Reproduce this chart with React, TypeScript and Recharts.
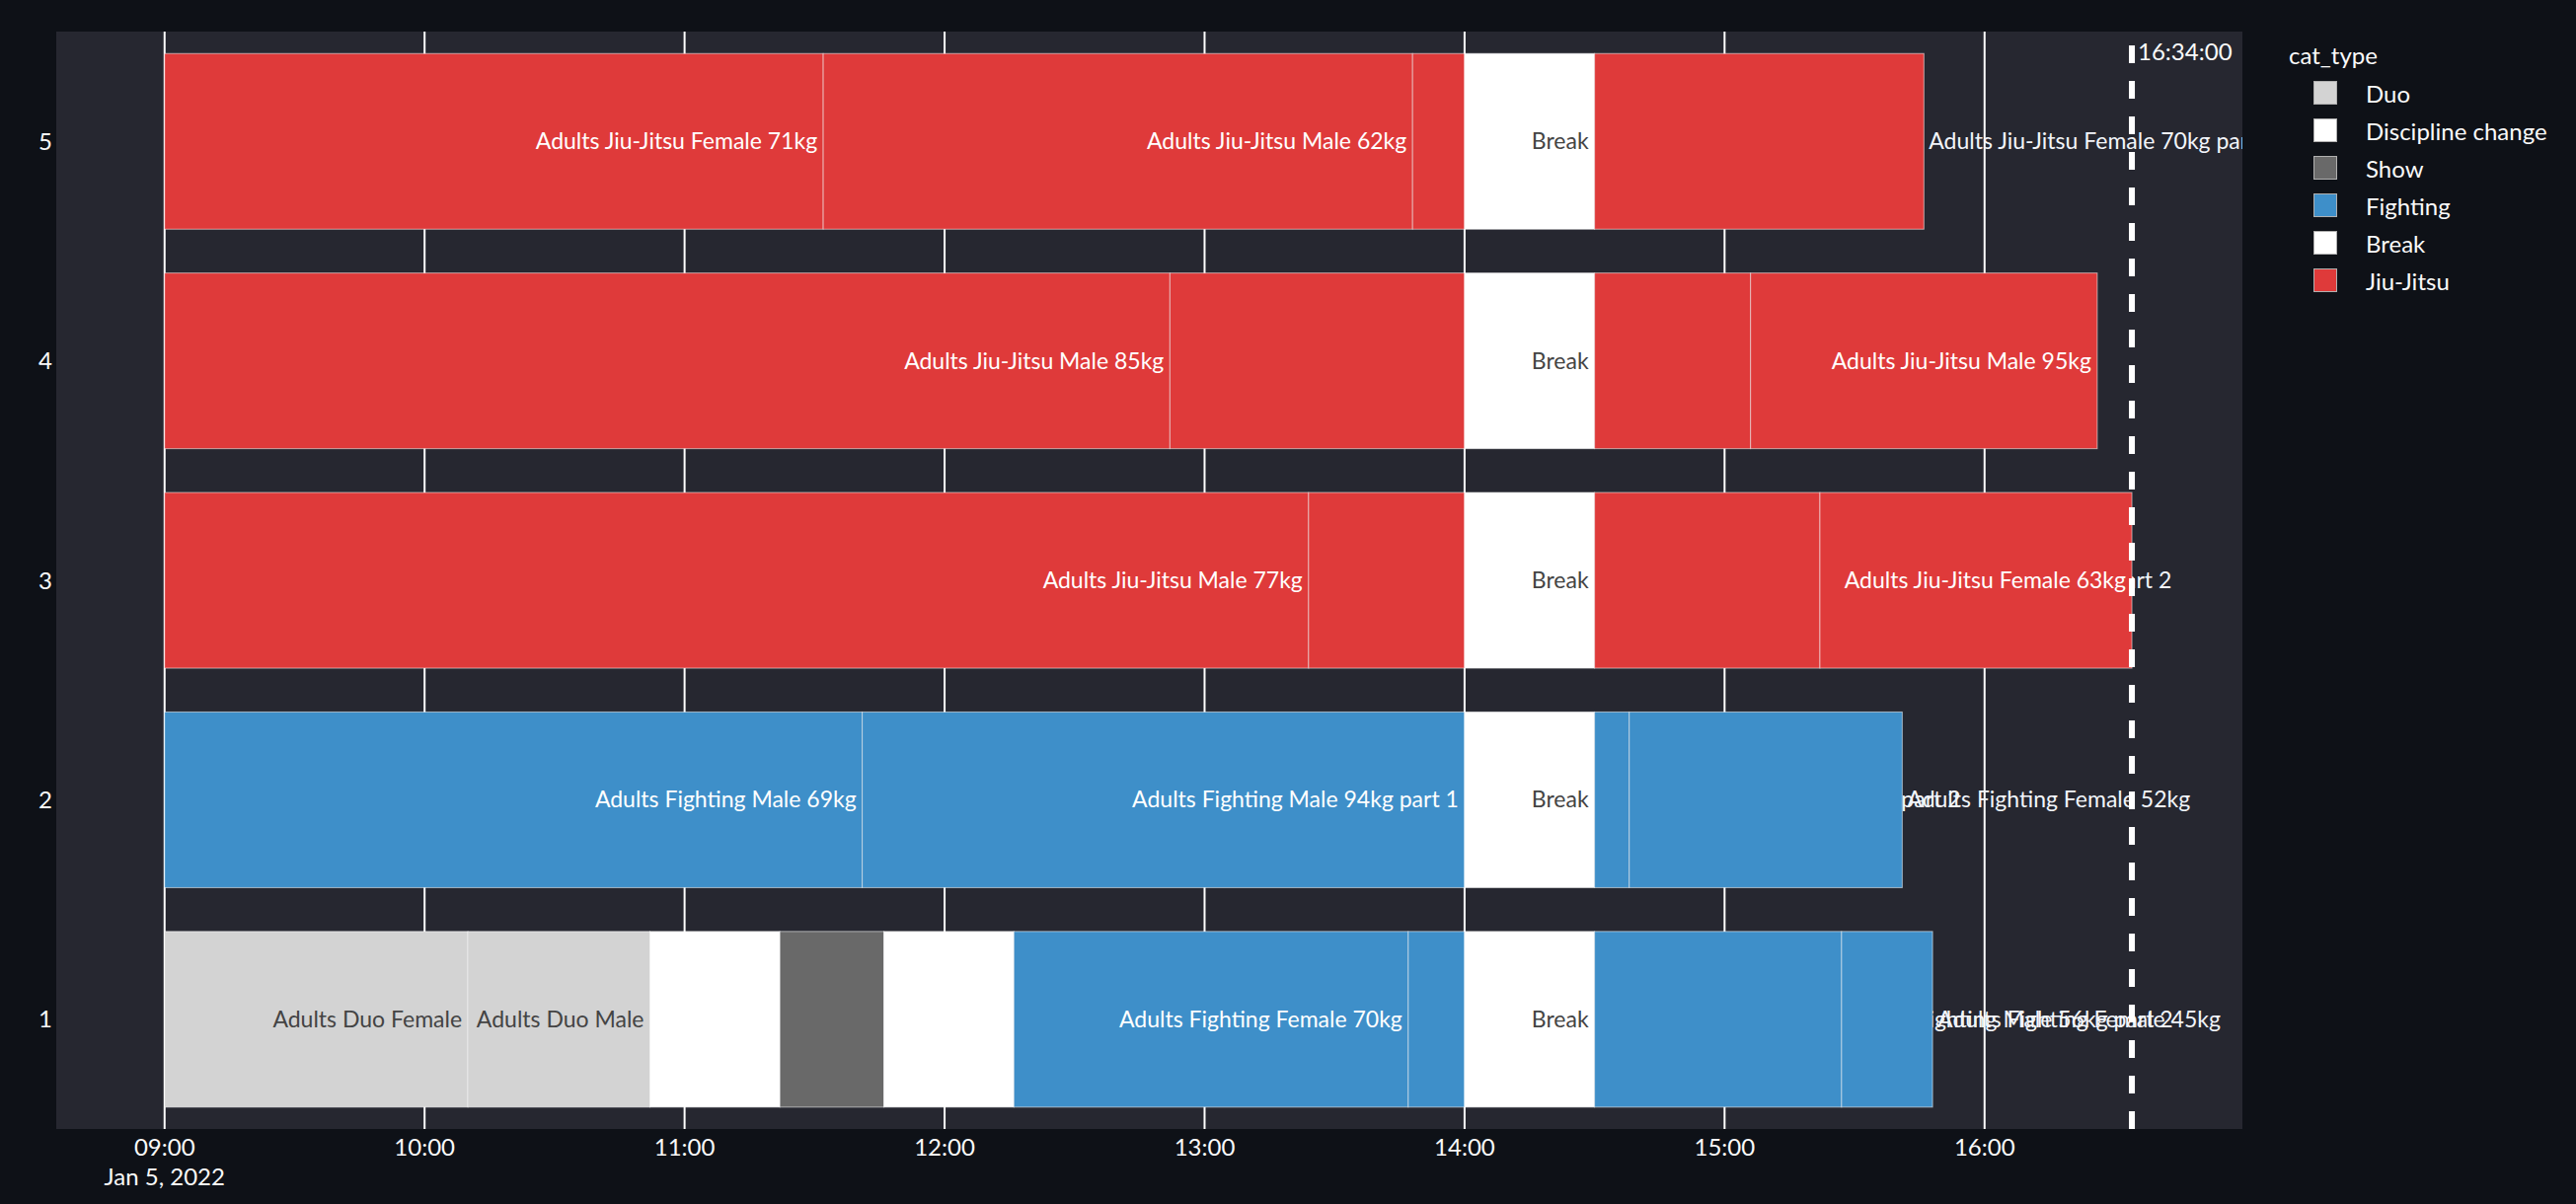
import { Bar, BarChart, CartesianGrid, ReferenceLine, XAxis, YAxis } from "recharts";

// categories of the schedule (legend order)
const catTypes = ["Duo", "Discipline change", "Show", "Fighting", "Break", "Jiu-Jitsu"];
const catColors = ["#d3d3d3", "#ffffff", "#696969", "#3e8fc9", "#ffffff", "#df3a3a"];

// mats, top to bottom
const mats = ["5", "4", "3", "2", "1"];

// durations in minutes from 09:00, per mat
const mat5Minutes = [152, 136, 12, 30, 76];
const mat5Types = ["Jiu-Jitsu", "Jiu-Jitsu", "Jiu-Jitsu", "Break", "Jiu-Jitsu"];
const mat5Texts = ["Adults Jiu-Jitsu Female 71kg", "Adults Jiu-Jitsu Male 62kg", "", "Break", "Adults Jiu-Jitsu Female 70kg part 2"];

const mat4Minutes = [232, 68, 30, 36, 80];
const mat4Types = ["Jiu-Jitsu", "Jiu-Jitsu", "Break", "Jiu-Jitsu", "Jiu-Jitsu"];
const mat4Texts = ["Adults Jiu-Jitsu Male 85kg", "", "Break", "", "Adults Jiu-Jitsu Male 95kg"];

const mat3Minutes = [264, 36, 30, 52, 72];
const mat3Types = ["Jiu-Jitsu", "Jiu-Jitsu", "Break", "Jiu-Jitsu", "Jiu-Jitsu"];
const mat3Texts = ["Adults Jiu-Jitsu Male 77kg", "", "Break", "Adults Jiu-Jitsu Female 63kg part 2", "Adults Jiu-Jitsu Female 63kg"];

const mat2Minutes = [161, 139, 30, 8, 63];
const mat2Types = ["Fighting", "Fighting", "Break", "Fighting", "Fighting"];
const mat2Texts = ["Adults Fighting Male 69kg", "Adults Fighting Male 94kg part 1", "Break", "Adults Fighting Male 94kg part 2", "Adults Fighting Female 52kg"];

const mat1Minutes = [70, 42, 30, 24, 30, 91, 13, 30, 57, 21];
const mat1Types = ["Duo", "Duo", "Discipline change", "Show", "Discipline change", "Fighting", "Fighting", "Break", "Fighting", "Fighting"];
const mat1Texts = ["Adults Duo Female", "Adults Duo Male", "", "Adults Show", "", "Adults Fighting Female 70kg", "", "Break", "Adults Fighting Male 56kg part 2", "Adults Fighting Female 45kg"];

// x axis
const tickLabels = ["09:00", "10:00", "11:00", "12:00", "13:00", "14:00", "15:00", "16:00"];
const dateLabel = "Jan 5, 2022";
const nowLabel = "16:34:00";

const W = 2610;
const H = 1220;
const M = { top: 32, right: 338, bottom: 0, left: 0 };
const Y_AXIS_W = 57;
const PLOT_RIGHT = W - M.right;
const X_DOMAIN = [-25, 479.5];
const FONT = 'Lato, "Noto Sans", sans-serif';
const LABEL_SIZE = 23;
const PAD = 6;

const toMin = (s: string) => {
  const [h, m] = s.split(":").map(Number);
  return (h - 9) * 60 + m;
};
const tickValues = tickLabels.map(toMin);
const nowMin = toMin(nowLabel);

const matInfo: Record<string, { minutes: number[]; types: string[]; texts: string[] }> = {
  "5": { minutes: mat5Minutes, types: mat5Types, texts: mat5Texts },
  "4": { minutes: mat4Minutes, types: mat4Types, texts: mat4Texts },
  "3": { minutes: mat3Minutes, types: mat3Types, texts: mat3Texts },
  "2": { minutes: mat2Minutes, types: mat2Types, texts: mat2Texts },
  "1": { minutes: mat1Minutes, types: mat1Types, texts: mat1Texts },
};
const maxSegs = Math.max(...mats.map((m) => matInfo[m].minutes.length));

const chartData = mats.map((m) => {
  const row: any = { mat: m };
  for (let k = 0; k < maxSegs; k++) row[`s${k}`] = matInfo[m].minutes[k] ?? 0;
  return row;
});

let ctx: CanvasRenderingContext2D | null = null;
function textWidth(s: string) {
  if (!ctx) ctx = document.createElement("canvas").getContext("2d");
  if (!ctx) return s.length * LABEL_SIZE * 0.45;
  ctx.font = `${LABEL_SIZE}px ${FONT}`;
  return ctx.measureText(s).width;
}

const colorOf = (t: string) => catColors[catTypes.indexOf(t)];
const isLight = (t: string) => t === "Duo" || t === "Discipline change" || t === "Break";

// one shape per segment slot; labels drawn with the rect so later segments cover overflow
const segShape = (k: number) => (props: any) => {
  const { x, y, width, height, payload } = props;
  if (!payload || !(width > 0)) return <g />;
  const info = matInfo[payload.mat];
  const type = info.types[k];
  const text = info.texts[k];
  const cy = y + height / 2;
  let label = null;
  if (text) {
    const tw = textWidth(text);
    if (tw + 2 * PAD <= width) {
      label = (
        <text x={x + width - PAD} y={cy} dy="0.35em" textAnchor="end" fontSize={LABEL_SIZE} fill={isLight(type) ? "#444" : "#fff"}>
          {text}
        </text>
      );
    } else {
      label = (
        <svg x={0} y={0} width={PLOT_RIGHT} height={H} overflow="hidden">
          <text x={x + width + 5} y={cy} dy="0.35em" textAnchor="start" fontSize={LABEL_SIZE} fill="#f2f5fa">
            {text}
          </text>
        </svg>
      );
    }
  }
  return (
    <g>
      <rect x={x} y={y} width={width} height={height} fill={colorOf(type)} stroke="rgba(255,255,255,0.55)" strokeWidth={1} />
      {label}
    </g>
  );
};

// grid lines only at the hour ticks (not at plot edges)
const hourLines = (args: any) => {
  const left = args?.offset?.left ?? M.left + Y_AXIS_W;
  const width = args?.offset?.width ?? PLOT_RIGHT - (M.left + Y_AXIS_W);
  return tickValues.map((v) => left + ((v - X_DOMAIN[0]) / (X_DOMAIN[1] - X_DOMAIN[0])) * width);
};

const TimeTick = (props: any) => {
  const { x, y, payload, index } = props;
  const label = tickLabels[tickValues.indexOf(payload.value)];
  return (
    <g>
      <text x={x} y={y + 27} textAnchor="middle" fontSize={24} fill="#fafafa">
        {label}
      </text>
      {index === 0 && (
        <text x={x} y={y + 57} textAnchor="middle" fontSize={24} fill="#fafafa">
          {dateLabel}
        </text>
      )}
    </g>
  );
};

const NowLine = (props: any) => {
  const { x1, y1, x2, y2 } = props;
  return (
    <line x1={x1} y1={Math.max(y1, y2)} x2={x2} y2={Math.min(y1, y2)} stroke="#fff" strokeWidth={6} strokeDasharray="18 18" />
  );
};

const NowLabel = (props: any) => {
  const vb = props.viewBox || {};
  return (
    <text x={vb.x + 6} y={vb.y + 21} dy="0.35em" fontSize={24} fill="#fafafa">
      {nowLabel}
    </text>
  );
};

export default function App() {
  return (
    <div style={{ position: "absolute", left: 0, top: 0, width: W, height: H, background: "#0e1117", fontFamily: FONT }}>
      <BarChart width={W} height={H} data={chartData} layout="vertical" margin={M} barCategoryGap="10%">
        <CartesianGrid horizontal={false} vertical={false} fill="#262730" stroke="none" />
        <CartesianGrid horizontal={false} stroke="#ffffff" strokeWidth={2} verticalCoordinatesGenerator={hourLines} />
        <XAxis
          type="number"
          domain={X_DOMAIN}
          ticks={tickValues}
          allowDataOverflow
          axisLine={false}
          tickLine={false}
          tickSize={0}
          tickMargin={0}
          height={76}
          tick={<TimeTick />}
        />
        <YAxis
          type="category"
          dataKey="mat"
          width={Y_AXIS_W}
          axisLine={false}
          tickLine={false}
          tickSize={0}
          tickMargin={4}
          tick={{ fill: "#fafafa", fontSize: 24 }}
        />
        {Array.from({ length: maxSegs }, (_, k) => (
          <Bar key={k} dataKey={`s${k}`} stackId="t" isAnimationActive={false} shape={segShape(k)} />
        ))}
        <ReferenceLine x={nowMin} stroke="#fff" shape={NowLine} label={NowLabel} />
      </BarChart>
      <div style={{ position: "absolute", left: 2319, top: 40, color: "#fafafa", fontSize: 24, lineHeight: "32px" }}>cat_type</div>
      <div style={{ position: "absolute", left: 2344, top: 75 }}>
        {catTypes.map((t, i) => (
          <div key={t} style={{ height: 38, display: "flex", alignItems: "center" }}>
            <span style={{ width: 24, height: 24, boxSizing: "border-box", background: catColors[i], border: "1px solid #b0b0b0", display: "inline-block" }} />
            <span style={{ marginLeft: 29, color: "#fafafa", fontSize: 24, whiteSpace: "nowrap" }}>{t}</span>
          </div>
        ))}
      </div>
    </div>
  );
}
